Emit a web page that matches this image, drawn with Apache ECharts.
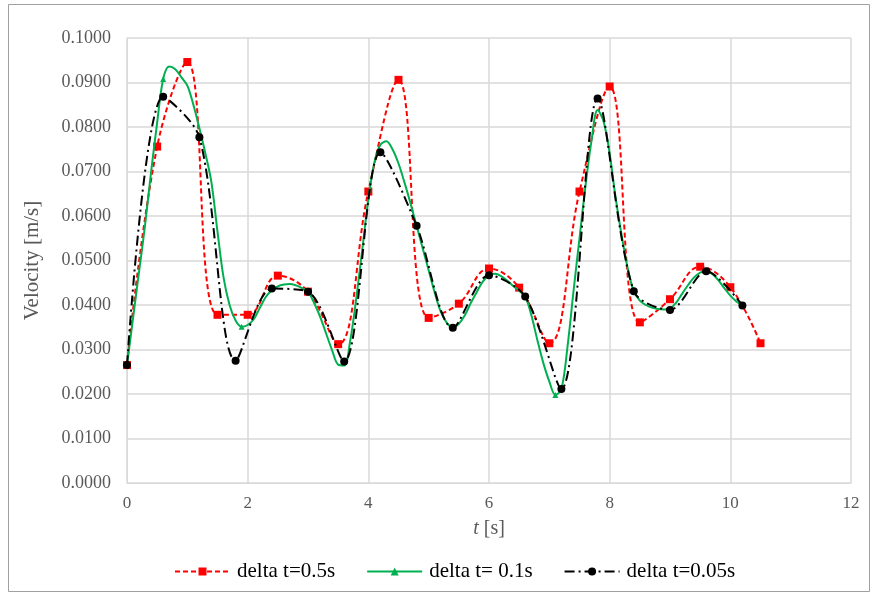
<!DOCTYPE html>
<html>
<head>
<meta charset="utf-8">
<script src="https://cdn.jsdelivr.net/npm/echarts@6/dist/echarts.min.js"></script>
<style>
  html, body { margin: 0; padding: 0; background: #ffffff; }
  #chart { width: 877px; height: 596px; }
</style>
</head>
<body>
<div id="chart"></div>
<script>
// Velocity samples for three time-step sizes
const seriesNames = ['delta t=0.5s', 'delta t= 0.1s', 'delta t=0.05s'];

// delta t = 0.5 s run, sampled every 0.5 s from t = 0
const redStep = 0.5;
const redVelocity = [
  0.0265, 0.0756, 0.0946, 0.0378, 0.0378, 0.0466, 0.0430, 0.0312,
  0.0655, 0.0906, 0.0371, 0.0403, 0.0482, 0.0439, 0.0314, 0.0655,
  0.0891, 0.0361, 0.0413, 0.0486, 0.0440, 0.0314
];

// delta t = 0.1 s run, sampled every 0.1 s from t = 0
const greenStep = 0.1;
const greenVelocity = [
  0.0265, 0.0370, 0.0475, 0.0580, 0.0700, 0.0810, 0.0908, 0.0936, 0.0930, 0.0912,
  0.0893, 0.0850, 0.0797, 0.0740, 0.0675, 0.0565, 0.0462, 0.0400, 0.0365, 0.0351,
  0.0355, 0.0368, 0.0393, 0.0418, 0.0433, 0.0442, 0.0446, 0.0447, 0.0444, 0.0438,
  0.0430, 0.0405, 0.0374, 0.0336, 0.0298, 0.0266, 0.0264, 0.0320, 0.0415, 0.0525,
  0.0638, 0.0720, 0.0760, 0.0768, 0.0750, 0.0718, 0.0675, 0.0628, 0.0578, 0.0528,
  0.0478, 0.0428, 0.0385, 0.0360, 0.0350, 0.0358, 0.0377, 0.0405, 0.0430, 0.0453,
  0.0467, 0.0470, 0.0465, 0.0455, 0.0443, 0.0432, 0.0419, 0.0378, 0.0322, 0.0270,
  0.0228, 0.0198, 0.0211, 0.0305, 0.0430, 0.0550, 0.0668, 0.0770, 0.0838, 0.0812,
  0.0740, 0.0640, 0.0555, 0.0482, 0.0431, 0.0410, 0.0400, 0.0394, 0.0391, 0.0390,
  0.0392, 0.0405, 0.0425, 0.0445, 0.0462, 0.0473, 0.0476, 0.0470, 0.0456, 0.0438,
  0.0421, 0.0408, 0.0399
];
// sample times on the 0.1 s run that carry a triangle marker
const greenMarkerTimes = [0.6, 1.9, 7.1];

// delta t = 0.05 s run, sampled every 0.6 s from t = 0
const blackStep = 0.6;
const blackVelocity = [
  0.0265, 0.0868, 0.0777, 0.0275, 0.0437, 0.0430, 0.0273, 0.0743, 0.0578,
  0.0349, 0.0467, 0.0419, 0.0211, 0.0864, 0.0431, 0.0389, 0.0476, 0.0399
];

// axis ranges
const xMin = 0, xMax = 12, xInterval = 2;
const yMin = 0, yMax = 0.1, yInterval = 0.01;

function timeAt(i, step) {
  return Math.round(i * step * 1000) / 1000;
}
function pairs(values, step) {
  return values.map((v, i) => [timeAt(i, step), v]);
}

const serif = '"Liberation Serif", "Times New Roman", serif';
const textColor = '#595959';
const gridColor = '#d9d9d9';

const greenData = greenVelocity.map((v, i) => {
  const t = timeAt(i, greenStep);
  const marked = greenMarkerTimes.some(m => Math.abs(m - t) < 1e-6);
  return marked ? { value: [t, v], symbol: 'triangle', symbolSize: 6 }
                : { value: [t, v], symbol: 'none' };
});

const chart = echarts.init(document.getElementById('chart'), null, { renderer: 'canvas' });

chart.setOption({
  animation: false,
  backgroundColor: '#ffffff',
  textStyle: { fontFamily: serif },
  grid: { left: 127, right: 26, top: 38, bottom: 113, containLabel: false },
  graphic: [{
    type: 'rect',
    silent: true,
    shape: { x: 8.5, y: 4.5, width: 861, height: 587 },
    style: { fill: 'none', stroke: '#a0a0a0', lineWidth: 1 },
    z: -1
  }],
  legend: {
    top: 556,
    left: 169,
    itemWidth: 55,
    itemHeight: 10,
    itemGap: 31,
    textStyle: { fontFamily: serif, fontSize: 21, color: '#000000', padding: [0, 0, 0, 2] },
    data: seriesNames
  },
  xAxis: {
    type: 'value',
    min: xMin, max: xMax, interval: xInterval,
    name: '{i|t} [s]',
    nameLocation: 'middle',
    nameGap: 36,
    nameTextStyle: {
      fontFamily: serif, fontSize: 20, color: textColor,
      rich: { i: { fontFamily: serif, fontSize: 20, fontStyle: 'italic', color: textColor } }
    },
    axisLine: { show: true, lineStyle: { color: gridColor, width: 1 } },
    axisTick: { show: false },
    axisLabel: { fontFamily: serif, fontSize: 17, color: textColor, margin: 12 },
    splitLine: { show: true, lineStyle: { color: gridColor, width: 1.5 } }
  },
  yAxis: {
    type: 'value',
    min: yMin, max: yMax, interval: yInterval,
    name: 'Velocity [m/s]',
    nameLocation: 'middle',
    nameRotate: 90,
    nameGap: 84,
    nameTextStyle: { fontFamily: serif, fontSize: 21, color: textColor },
    axisLine: { show: true, lineStyle: { color: gridColor, width: 1 } },
    axisTick: { show: false },
    axisLabel: {
      fontFamily: serif, fontSize: 18, color: textColor, margin: 16,
      formatter: v => v.toFixed(4)
    },
    splitLine: { show: true, lineStyle: { color: gridColor, width: 1.5 } }
  },
  series: [
    {
      name: seriesNames[0],
      type: 'line',
      data: pairs(redVelocity, redStep),
      smooth: 0.4,
      symbol: 'rect',
      symbolSize: 8,
      showAllSymbol: true,
      lineStyle: { color: '#ff0000', width: 2, type: [5, 3] },
      itemStyle: { color: '#ff0000' },
      z: 2
    },
    {
      name: seriesNames[1],
      type: 'line',
      data: greenData,
      smooth: 0.35,
      symbol: 'triangle',
      symbolSize: 6,
      showAllSymbol: true,
      lineStyle: { color: '#00b050', width: 2, type: 'solid' },
      itemStyle: { color: '#00b050' },
      z: 3
    },
    {
      name: seriesNames[2],
      type: 'line',
      data: pairs(blackVelocity, blackStep),
      smooth: 0.3,
      symbol: 'circle',
      symbolSize: 8,
      showAllSymbol: true,
      lineStyle: { color: '#000000', width: 2, type: [10, 4, 2, 4] },
      itemStyle: { color: '#000000' },
      z: 4
    }
  ]
});
</script>
</body>
</html>
